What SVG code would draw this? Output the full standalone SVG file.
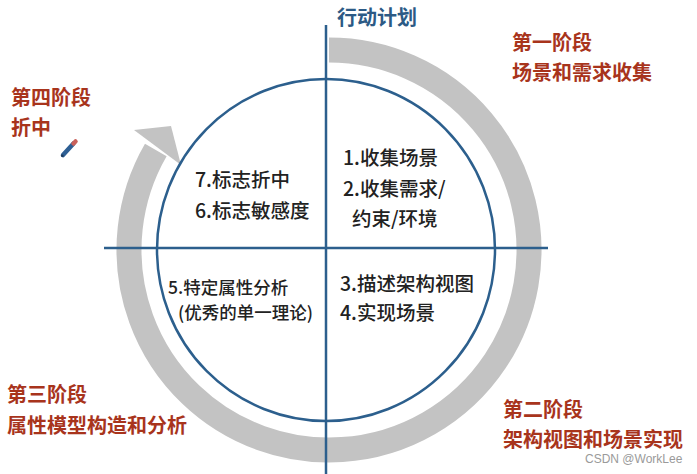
<svg xmlns="http://www.w3.org/2000/svg" width="697" height="474" viewBox="0 0 697 474">
  <style>
    .red { font-family: "Noto Sans CJK SC", "Liberation Sans", sans-serif; font-weight: bold; font-size: 20px; fill: #a8341c; }
    .blue { font-family: "Noto Sans CJK SC", "Liberation Sans", sans-serif; font-weight: bold; font-size: 20px; fill: #2c5a85; }
    .inner { font-family: "Noto Sans CJK SC", "Liberation Sans", sans-serif; font-weight: 500; font-size: 19.5px; fill: #222222; }
    .small { font-size: 17.5px; }
    .axis { stroke: #2c5f8d; stroke-width: 2.5; fill: none; }
    .wm { font-family: "Liberation Sans", Arial, sans-serif; font-size: 12px; fill: #9a9a9a; }
  </style>
  <rect width="697" height="474" fill="#ffffff"/>

  <g id="cycle-arrow">
    <path d="M 329 50 A 200 200 0 1 1 155.8 150" fill="none" stroke="#c3c3c3" stroke-width="25"/>
    <polygon points="181,165 134,130 171,126" fill="#c3c3c3"/>
  </g>

  <g id="connectors">
    <ellipse cx="326" cy="250" rx="169" ry="171" class="axis" stroke-width="3"/>
    <line x1="326" y1="25" x2="326" y2="474" class="axis"/>
    <line x1="104" y1="248" x2="548" y2="248" class="axis"/>
  </g>

  <g id="title">
    <text x="337" y="25" class="blue">行动计划</text>
  </g>

  <g id="stage1">
    <text x="512" y="50" class="red">第一阶段</text>
    <text x="512" y="80" class="red">场景和需求收集</text>
  </g>
  <g id="stage2">
    <text x="503" y="416.5" class="red">第二阶段</text>
    <text x="503" y="446.5" class="red">架构视图和场景实现</text>
  </g>
  <g id="stage3">
    <text x="7" y="401.5" class="red">第三阶段</text>
    <text x="7" y="432.5" class="red">属性模型构造和分析</text>
  </g>
  <g id="stage4">
    <text x="11" y="105" class="red">第四阶段</text>
    <text x="11" y="135" class="red">折中</text>
  </g>

  <g id="pencil">
    <line x1="63" y1="155" x2="73.5" y2="143.5" stroke="#2e5f94" stroke-width="4.5" stroke-linecap="round"/>
    <line x1="73.5" y1="143.5" x2="75.5" y2="141.5" stroke="#c9605a" stroke-width="4.5" stroke-linecap="round"/>
    <circle cx="62.3" cy="155.7" r="1.3" fill="#1f3b5c"/>
  </g>

  <g id="q1">
    <text x="343" y="164.5" class="inner">1.收集场景</text>
    <text x="343" y="195.5" class="inner">2.收集需求/</text>
    <text x="352" y="225.5" class="inner">约束/环境</text>
  </g>
  <g id="q2">
    <text x="195" y="186.5" class="inner">7.标志折中</text>
    <text x="195" y="217.5" class="inner">6.标志敏感度</text>
  </g>
  <g id="q3">
    <text x="168" y="294" class="inner small">5.特定属性分析</text>
    <text x="178" y="318.5" class="inner small">(优秀的单一理论)</text>
  </g>
  <g id="q4">
    <text x="340" y="291" class="inner">3.描述架构视图</text>
    <text x="340" y="320" class="inner">4.实现场景</text>
  </g>

  <text x="585" y="463" class="wm">CSDN @WorkLee</text>
</svg>
